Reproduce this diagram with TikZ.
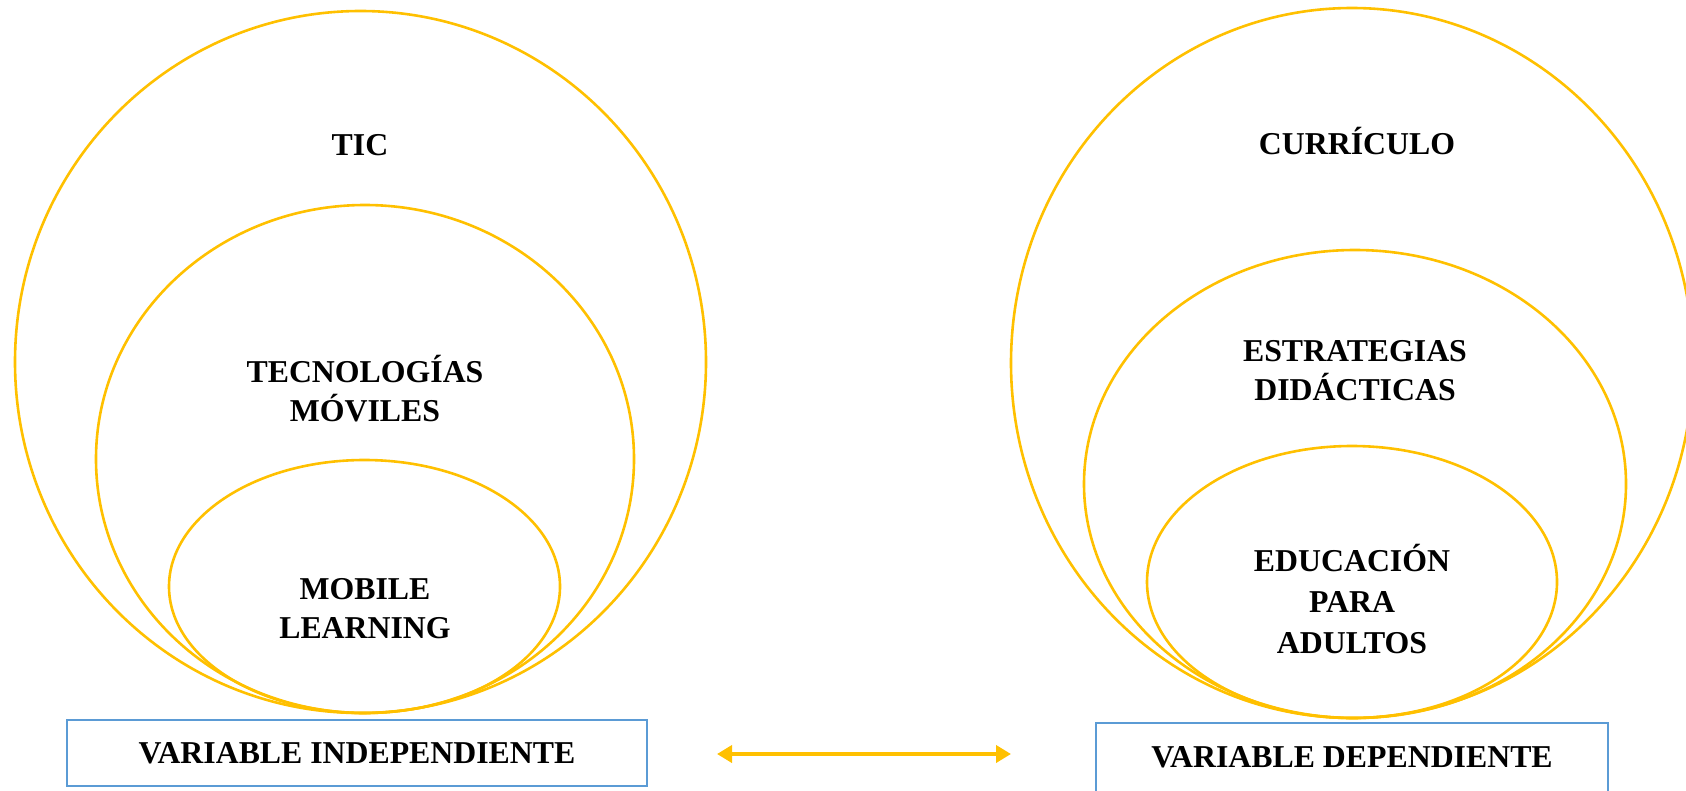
\documentclass[tikz,border=0pt]{standalone}
\usepackage{fontspec}
\setmainfont{Liberation Serif}
\usetikzlibrary{shapes.geometric,arrows.meta}
\definecolor{gold}{HTML}{FFC000}
\definecolor{boxblue}{HTML}{5B9BD5}
\begin{document}
\begin{tikzpicture}[x=1pt,y=-1pt,
  ringshape/.style={draw=gold,line width=2.6pt,ellipse,inner sep=0pt,outer sep=0pt},
  txt/.style={font=\fontsize{31.8}{39}\selectfont\bfseries,align=center,inner sep=0pt},
  varbox/.style={draw=boxblue,line width=2.6pt,inner sep=0pt,font=\fontsize{31.8}{39}\selectfont\bfseries},
  twoarrow/.style={draw=gold,line width=4pt,{Triangle[length=15pt,width=17pt]}-{Triangle[length=15pt,width=17pt]}}]
\useasboundingbox (0,0) rectangle (1686,790);
\clip (0,0) rectangle (1686,790);
% left set
\node[ringshape,minimum width=691pt,minimum height=702pt] (ticring) at (360.5,362) {};
\node[ringshape,minimum width=538pt,minimum height=508pt] (tmring) at (365,459) {};
\node[ringshape,minimum width=391pt,minimum height=253pt] (mlring) at (364.5,586.5) {};
\node[txt] (tic) at (360,145) {TIC};
\node[txt] (tm) at (365,388.5) {TECNOLOGÍAS\\MÓVILES};
\node[txt] (ml) at (365,608.5) {MOBILE\\LEARNING};
% right set
\node[ringshape,minimum width=682pt,minimum height=710pt] (curring) at (1352,363) {};
\node[ringshape,minimum width=542pt,minimum height=468pt] (edring) at (1355,484) {};
\node[ringshape,minimum width=410pt,minimum height=272pt] (earing) at (1352,582) {};
\node[txt] (cur) at (1357,141) {CURRÍCULO};
\node[txt] (ed) at (1355,370.5) {ESTRATEGIAS\\DIDÁCTICAS};
\node[txt,font=\fontsize{31.8}{41}\selectfont\bfseries] (ea) at (1352,599) {EDUCACIÓN\\PARA\\ADULTOS};
% variable boxes
\node[varbox,minimum width=580pt,minimum height=66pt] (vi) at (357,753) {VARIABLE INDEPENDIENTE};
\node[varbox,minimum width=512pt,minimum height=69pt] (vd) at (1352,757.5) {VARIABLE DEPENDIENTE};
% arrow
\coordinate (al) at (717,754);
\coordinate (ar) at (1011,754);
\draw[twoarrow] (al) -- (ar);
\end{tikzpicture}
\end{document}
